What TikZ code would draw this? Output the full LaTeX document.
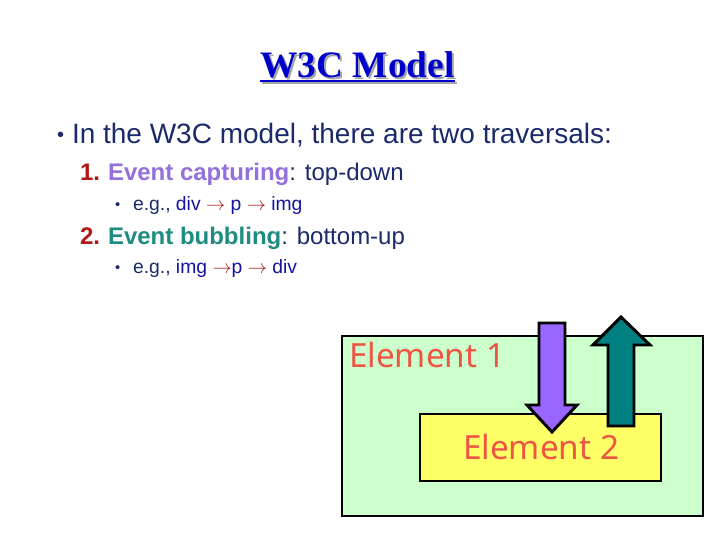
\documentclass[tikz,border=0pt]{standalone}
\usepackage{fontspec}
\setmainfont{Liberation Sans}
\newfontfamily\titlefont{Liberation Serif}
\newfontfamily\elemfont{Noto Sans}
\definecolor{titleblue}{HTML}{0000CC}
\definecolor{navy}{HTML}{1A2A6A}
\definecolor{numred}{HTML}{B01818}
\definecolor{capt}{HTML}{9370DB}
\definecolor{bubb}{HTML}{1E8C80}
\definecolor{tagblue}{HTML}{1414A0}
\definecolor{arrred}{HTML}{A01818}
\definecolor{elemred}{HTML}{EE5544}
\definecolor{boxgreen}{HTML}{CCFFCC}
\definecolor{boxyellow}{HTML}{FFFF66}
\definecolor{arrpurple}{HTML}{9966FF}
\definecolor{arrteal}{HTML}{008080}
\tikzset{
  txt/.style={anchor=base west, inner sep=0pt, outer sep=0pt},
  lvlone/.style={txt, text=navy, font=\fontsize{21}{25}\selectfont},
  lvltwo/.style={txt, text=navy, font=\fontsize{18}{22}\selectfont},
  lvlthree/.style={txt, text=navy, font=\fontsize{14.5}{17}\selectfont},
  elembox/.style={draw=black, line width=2.2pt},
  blockarrow/.style={draw=black, line width=2.2pt, line join=miter},
  elemtext/.style={txt, text=elemred, font=\elemfont\fontsize{25}{30}\selectfont}
}
\newcommand{\ra}{\textcolor{arrred}{$\rightarrow$}}
\begin{document}
\begin{tikzpicture}[x=0.75pt,y=-0.75pt]
\useasboundingbox[fill=white] (0,0) rectangle (720,540);
% title with shadow
\node[anchor=base, inner sep=0pt, text=gray!70, font=\titlefont\bfseries\fontsize{28}{34}\selectfont] (titleshadow) at (359.5,79) {W3C Model};
\draw[gray!70, line width=1.5pt] ([yshift=-3pt]titleshadow.base west) -- ([yshift=-3pt]titleshadow.base east);
\node[anchor=base, inner sep=0pt, text=titleblue, font=\titlefont\bfseries\fontsize{28}{34}\selectfont] (title) at (357.5,77) {W3C Model};
\draw[titleblue, line width=1.5pt] ([yshift=-3pt]title.base west) -- ([yshift=-3pt]title.base east);
% main bullet
\node[lvlone, font=\fontsize{15}{18}\selectfont] (b1) at (57,141) {\textbullet};
\node[lvlone] (l1) at (72,143) {In the W3C model, there are two traversals:};
% item 1
\node[lvltwo] (n1) at (80,180) {\textcolor{numred}{\bfseries 1.}};
\node[lvltwo] (i1) at (108,180) {\textcolor{capt}{\bfseries Event capturing}: top-down};
\node[lvlthree, font=\fontsize{11}{13}\selectfont] (s1b) at (115,209) {\textbullet};
\node[lvlthree] (s1) at (133,210) {e.g., \textcolor{tagblue}{div} \ra\ \textcolor{tagblue}{p} \ra\ \textcolor{tagblue}{img}};
% item 2
\node[lvltwo] (n2) at (80,244) {\textcolor{numred}{\bfseries 2.}};
\node[lvltwo] (i2) at (108,244) {\textcolor{bubb}{\bfseries Event bubbling}: bottom-up};
\node[lvlthree, font=\fontsize{11}{13}\selectfont] (s2b) at (115,272) {\textbullet};
\node[lvlthree] (s2) at (133,273) {e.g., \textcolor{tagblue}{img} \ra\textcolor{tagblue}{p} \ra\ \textcolor{tagblue}{div}};
% boxes
\draw[elembox, fill=boxgreen] (342,336) rectangle (703,516);
\node[elemtext] (e1) at (349,367) {Element 1};
\draw[elembox, fill=boxyellow] (420,414) rectangle (661,481);
\node[elemtext] (e2) at (463,459) {Element 2};
% purple down arrow
\draw[blockarrow, fill=arrpurple] (539,323) -- (565,323) -- (565,405) -- (577,405) -- (552,432) -- (527,405) -- (539,405) -- cycle;
% teal up arrow
\draw[blockarrow, fill=arrteal] (608,426) -- (634,426) -- (634,345) -- (650,345) -- (621,317) -- (593,345) -- (608,345) -- cycle;
\end{tikzpicture}
\end{document}
